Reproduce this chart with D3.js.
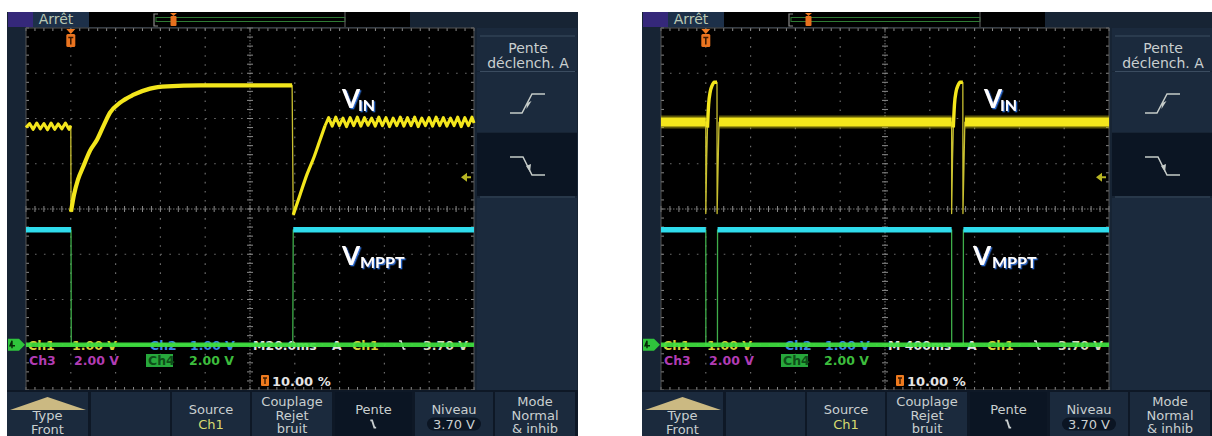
<!DOCTYPE html>
<html><head><meta charset="utf-8">
<script src="https://cdn.jsdelivr.net/npm/d3@7"></script>
<style>
html,body{margin:0;padding:0;background:#fff;}
svg{display:block;}
</style></head><body>
<svg id="chart" width="1212" height="436">
<defs>
<filter id="blueShadow" x="-20%" y="-20%" width="150%" height="150%">
  <feDropShadow dx="1.3" dy="1.3" stdDeviation="0.6" flood-color="#2e6fd6" flood-opacity="1"/>
</filter>
</defs>
</svg>
<script>
// ================= DATA =================
const divisionsX = 10, divisionsY = 8;
const voltDomain = [-1, 7];                 // 1.00 V/div, ground 3 div below centre
const triggerLevel = 3.70;                  // V
const triggerTime = 0;                      // ms
const leftTimeDomain  = [-20, 180];         // M20.0ms, trigger at 10 %
const rightTimeDomain = [-400, 3600];       // M 400ms, trigger at 10 %

// ---- left capture : Ch1 (V_IN) ----
const leftPreRippleT = [-20,-18.4,-16.8,-15.2,-13.6,-12,-10.4,-8.8,-7.2,-5.6,-4,-2.4,-0.8,0];
const leftPreRippleV = [4.80,4.89,4.76,4.90,4.77,4.89,4.75,4.90,4.76,4.88,4.77,4.90,4.76,4.84];
const leftChargeT = [0.1,1.4,3.2,5.5,8.6,11.7,14.8,17.5,22.0,27.8,35.4,43.0,57.7,80.0,98.8];
const leftChargeV = [2.94,3.31,3.65,3.93,4.29,4.53,4.86,5.13,5.35,5.52,5.66,5.71,5.73,5.73,5.73];
const leftRecoverT = [99.3,102.3,105.4,108.6,111.3,113.5];
const leftRecoverV = [2.87,3.31,3.76,4.15,4.53,4.84];
const leftPostRippleT = [113.5,115.1,116.7,118.3,119.9,121.5,123.1,124.7,126.3,127.9,129.5,131.1,132.7,134.3,135.9,137.5,139.1,140.7,142.3,143.9,145.5,147.1,148.7,150.3,151.9,153.5,155.1,156.7,158.3,159.9,161.5,163.1,164.7,166.3,167.9,169.5,171.1,172.7,174.3,175.9,177.5,179.1,180];
const leftPostRippleV = [4.84,5.02,4.83,5.03,4.84,5.01,4.82,5.02,4.84,5.03,4.83,5.02,4.85,5.01,4.83,5.03,4.84,5.02,4.82,5.01,4.84,5.03,4.83,5.02,4.84,5.03,4.82,5.01,4.84,5.02,4.83,5.03,4.84,5.02,4.83,5.01,4.84,5.03,4.82,5.02,4.84,5.03,4.90];
// ---- left capture : Ch2 (V_MPPT) ----
const leftCh2T = [-20,0.1,0.2,99.1,99.3,180];
const leftCh2V = [2.54,2.54,0,0,2.54,2.54];

// ---- right capture : Ch1 (V_IN) ----
const rightBand1T = [-400,0],      rightBand1V = [4.92,4.92];
const rightPulse1T = [0,2,8,15,25,40,55,75,100];
const rightPulse1V = [2.9,3.2,4.1,4.8,5.3,5.6,5.72,5.8,5.8];
const rightRecover1T = [101,118],  rightRecover1V = [2.9,4.92];
const rightBand2T = [118,2195],    rightBand2V = [4.92,4.92];
const rightPulse2T = [2195,2197,2203,2210,2220,2235,2250,2270,2295];
const rightPulse2V = [2.9,3.2,4.1,4.8,5.3,5.6,5.72,5.8,5.8];
const rightRecover2T = [2296,2313], rightRecover2V = [2.9,4.92];
const rightBand3T = [2313,3600],   rightBand3V = [4.92,4.92];
// ---- right capture : Ch2 (V_MPPT) ----
const rightCh2T = [-400,0,0.5,104,105,2195,2195.5,2299,2300,3600];
const rightCh2V = [2.54,2.54,0,0,2.54,2.54,0,0,2.54,2.54];

// ---- texts ----
const traceLabels = [{main:'V', sub:'IN'}, {main:'V', sub:'MPPT'}];
const statusText = 'Arrêt';
const panelTitle = ['Pente', 'déclench. A'];
const timebases = ['M20.0ms', 'M 400ms'];
const readoutRow1 = ['Ch1', '1.00 V', 'Ch2', '1.00 V', null, 'A', 'Ch1', null, '3.70 V'];
const readoutRow2 = ['Ch3', '2.00 V', 'Ch4', '2.00 V'];
const triggerPosText = '10.00 %';
const bottomButtons = [['Type','Front'], [], ['Source','Ch1'], ['Couplage','Rejet','bruit'], ['Pente','SLOPE'], ['Niveau','3.70 V'], ['Mode','Normal','& inhib']];

// ================= LAYOUT =================
const L = {plotL:26, plotR:474, plotT:28, plotB:390};
const C = {frame:'#172434', panel:'#1b2a3d', sel:'#0b1523', gap:'#0e1826',
  grid:'#6a6a6a', yellow:'#f3e61c', cyan:'#2fdcec', green:'#3fe03f', text:'#c9cfd0'};
const mono = 'DejaVu Sans';

const svg = d3.select('#chart');
const zip = (T,V) => T.map((t,i)=>[t,V[i]]);

function slopeIcon(g, cx, cy, s, color, w){
  g.append('path').attr('d',`M${cx-3*s},${cy-4*s} H${cx-1*s} L${cx+1.5*s},${cy+4*s} H${cx+3.5*s}`)
    .attr('fill','none').attr('stroke',color).attr('stroke-width',w);
}

function drawScope(cfg){
  const g = svg.append('g').attr('transform',`translate(${cfg.ox},0)`);
  const x = d3.scaleLinear().domain(cfg.time).range([L.plotL, L.plotR]);
  const y = d3.scaleLinear().domain(voltDomain).range([L.plotB, L.plotT]);

  // frame
  g.append('rect').attr('x',7).attr('y',12).attr('width',571).attr('height',424).attr('fill',C.frame);
  // top bar
  g.append('rect').attr('x',8).attr('y',12).attr('width',25).attr('height',15).attr('fill','#35287a');
  g.append('rect').attr('x',33).attr('y',12).attr('width',56).attr('height',15).attr('fill','#1d3049');
  g.append('text').attr('x',56).attr('y',24).attr('text-anchor','middle').attr('font-family',mono)
    .attr('font-size',14).attr('fill','#b9c8b4').text(statusText);
  g.append('rect').attr('x',89).attr('y',12).attr('width',321).attr('height',15).attr('fill','#000');
  g.append('path').attr('d','M158,14 H154 V26 H158').attr('fill','none').attr('stroke','#8a8a8a').attr('stroke-width',1.2);
  g.append('rect').attr('x',156).attr('y',17.5).attr('width',189).attr('height',4).attr('fill','none').attr('stroke','#2f7a34').attr('stroke-width',1);
  g.append('line').attr('x1',345).attr('x2',345).attr('y1',12).attr('y2',27).attr('stroke','#555').attr('stroke-width',1.2);
  g.append('path').attr('d','M170,13 H177 L173.5,16 Z').attr('fill','#f07a22');
  g.append('rect').attr('x',170.5).attr('y',16).attr('width',6).attr('height',10).attr('rx',1).attr('fill','#e8711e');

  // plot background
  g.append('rect').attr('x',L.plotL).attr('y',L.plotT).attr('width',L.plotR-L.plotL).attr('height',L.plotB-L.plotT).attr('fill','#000');

  // grid
  const stepT = (cfg.time[1]-cfg.time[0])/divisionsX;
  const stepV = (voltDomain[1]-voltDomain[0])/divisionsY;
  const majT = d3.range(divisionsX+1).map(i=>cfg.time[0]+i*stepT);
  const majV = d3.range(divisionsY+1).map(i=>voltDomain[0]+i*stepV);
  const minT = d3.range(divisionsX*5+1).map(i=>cfg.time[0]+i*stepT/5);
  const minV = d3.range(divisionsY*5+1).map(i=>voltDomain[0]+i*stepV/5);
  const minPxX = (L.plotR-L.plotL)/(divisionsX*5), minPxY = (L.plotB-L.plotT)/(divisionsY*5);
  const grid = g.append('g');
  majT.slice(1,-1).forEach((t,i)=>{ if(i+1===divisionsX/2) return;
    grid.append('line').attr('x1',x(t)).attr('x2',x(t)).attr('y1',L.plotT).attr('y2',L.plotB)
      .attr('stroke',C.grid).attr('stroke-width',1.2).attr('stroke-dasharray',`1.6,${minPxY-1.6}`);});
  majV.slice(1,-1).forEach((v,i)=>{ if(i+1===divisionsY/2) return;
    grid.append('line').attr('y1',y(v)).attr('y2',y(v)).attr('x1',L.plotL).attr('x2',L.plotR)
      .attr('stroke',C.grid).attr('stroke-width',1.2).attr('stroke-dasharray',`1.6,${minPxX-1.6}`);});
  const tc = majT[divisionsX/2], vc = majV[divisionsY/2];
  grid.append('line').attr('x1',x(tc)).attr('x2',x(tc)).attr('y1',L.plotT).attr('y2',L.plotB)
    .attr('stroke','#777').attr('stroke-width',1).attr('stroke-dasharray','1.5,1.5');
  grid.append('line').attr('y1',y(vc)).attr('y2',y(vc)).attr('x1',L.plotL).attr('x2',L.plotR)
    .attr('stroke','#777').attr('stroke-width',1).attr('stroke-dasharray','1.5,1.5');
  minT.forEach(t=>{
    grid.append('line').attr('x1',x(t)).attr('x2',x(t)).attr('y1',y(vc)-3).attr('y2',y(vc)+3).attr('stroke','#8a8a8a');
    grid.append('line').attr('x1',x(t)).attr('x2',x(t)).attr('y1',L.plotT).attr('y2',L.plotT+3).attr('stroke','#8a8a8a');
    grid.append('line').attr('x1',x(t)).attr('x2',x(t)).attr('y1',L.plotB-3).attr('y2',L.plotB).attr('stroke','#8a8a8a');
  });
  minV.forEach(v=>{
    grid.append('line').attr('y1',y(v)).attr('y2',y(v)).attr('x1',x(tc)-3).attr('x2',x(tc)+3).attr('stroke','#8a8a8a');
    grid.append('line').attr('y1',y(v)).attr('y2',y(v)).attr('x1',L.plotL).attr('x2',L.plotL+3).attr('stroke','#8a8a8a');
    grid.append('line').attr('y1',y(v)).attr('y2',y(v)).attr('x1',L.plotR-3).attr('x2',L.plotR).attr('stroke','#8a8a8a');
  });
  grid.append('rect').attr('x',L.plotL).attr('y',L.plotT).attr('width',L.plotR-L.plotL).attr('height',L.plotB-L.plotT)
    .attr('fill','none').attr('stroke','#555').attr('stroke-width',1);

  // readouts under traces
  const rd = g.append('g').attr('font-family',mono).attr('font-weight','bold').attr('font-size',12.5);
  const row1X = [28,72,150,190,253,332,352,398,423];
  const row1C = ['#d8d03a','#d8d03a','#3d86e6','#3d86e6','#e4e4e4','#e4e4e4','#d8d03a','#e4e4e4','#d8d8c0'];
  readoutRow1.forEach((s,i)=>{
    if(i===4) s = cfg.timebase;
    if(s===null){ slopeIcon(rd, row1X[i]+4, 345, 1, row1C[i], 1.6); return; }
    rd.append('text').attr('x',row1X[i]).attr('y',350).attr('fill',row1C[i]).text(s);
  });
  rd.append('rect').attr('x',146).attr('y',354).attr('width',27).attr('height',13).attr('fill','#27a83c');
  const row2X = [29,74,148,189], row2C = ['#b23cb4','#b23cb4','#0d4d18','#3dbd3d'];
  readoutRow2.forEach((s,i)=> rd.append('text').attr('x',row2X[i]).attr('y',365).attr('fill',row2C[i]).text(s));
  rd.append('rect').attr('x',261).attr('y',375).attr('width',8).attr('height',11).attr('rx',1).attr('fill','#ee7a1e');
  rd.append('path').attr('d','M263,378 H267 M265,378 V384').attr('stroke','#3a1a00').attr('stroke-width',1.4);
  rd.append('text').attr('x',272).attr('y',386).attr('font-size',13).attr('fill','#e4e4e4').text(triggerPosText);

  // traces
  const line = d3.line().x(d=>x(d[0])).y(d=>y(d[1]));
  const smooth = d3.line().curve(d3.curveMonotoneX).x(d=>x(d[0])).y(d=>y(d[1]));
  const tr = g.append('g').attr('fill','none').attr('stroke-linejoin','round');
  const ch2 = zip(cfg.ch2T, cfg.ch2V);
  tr.append('path').attr('d',line(ch2)).attr('stroke','#3fae4a').attr('stroke-width',1.3);
  tr.append('path').attr('d',d3.line().defined(d=>d[1]>1).x(d=>x(d[0])).y(d=>y(d[1]))(ch2))
    .attr('stroke',C.cyan).attr('stroke-width',5.5);
  const all = cfg.ch1.flatMap(s=>zip(s.T,s.V));
  tr.append('path').attr('d',line(all)).attr('stroke','#c9c030').attr('stroke-width',1.3);
  cfg.ch1.forEach(s=>{
    const pts = zip(s.T,s.V);
    if(s.band){
      tr.append('path').attr('d',line(pts)).attr('stroke','#b8ad10').attr('stroke-width',13).attr('opacity',0.5);
      tr.append('path').attr('d',line(pts)).attr('stroke',C.yellow).attr('stroke-width',9);
    } else if(s.pulse){
      tr.append('path').attr('d',d3.line().defined(d=>d[1]>4.6).curve(d3.curveMonotoneX).x(d=>x(d[0])).y(d=>y(d[1]))(pts))
        .attr('stroke',C.yellow).attr('stroke-width',3.4);
    } else if(s.w){
      tr.append('path').attr('d',(s.smooth?smooth:line)(pts)).attr('stroke',C.yellow).attr('stroke-width',s.w);
    }
  });
  tr.append('path').attr('d',line(zip(cfg.time,[0,0]))).attr('stroke',C.green).attr('stroke-width',4.5).attr('opacity',0.92);

  // channel 4 marker
  g.append('path').attr('d',`M8,${y(0)-6} H19 L25,${y(0)} L19,${y(0)+6} H8 Z`).attr('fill','#2fc43c');
  g.append('path').attr('d',`M12,${y(0)+3.5} L12,${y(0)-4} L10,${y(0)+1} H15`).attr('fill','none').attr('stroke','#062a08').attr('stroke-width',1.4);

  // trigger position marker
  const tx = x(triggerTime);
  g.append('path').attr('d',`M${tx-4.5},${L.plotT+1} H${tx+4.5} L${tx},${L.plotT+6} Z`).attr('fill','#f07a22');
  g.append('rect').attr('x',tx-4.5).attr('y',L.plotT+6).attr('width',9).attr('height',13).attr('rx',1.5).attr('fill','#ea7420');
  g.append('path').attr('d',`M${tx-2.5},${L.plotT+9.5} H${tx+2.5} M${tx},${L.plotT+9.5} V${L.plotT+16.5}`).attr('stroke','#3a1800').attr('stroke-width',1.5);
  const ty = y(triggerLevel);
  g.append('path').attr('d',`M${L.plotR-13},${ty} L${L.plotR-7},${ty-4.5} L${L.plotR-7},${ty+4.5} Z M${L.plotR-7},${ty-1} H${L.plotR-3} V${ty+1} H${L.plotR-7} Z`).attr('fill','#b8b624');

  // trace labels
  const lab = g.append('g').attr('font-family','Lato').attr('font-weight','bold').attr('filter','url(#blueShadow)');
  cfg.labels.forEach((p,i)=>{
    const d = traceLabels[i];
    const t = lab.append('text').attr('fill','#ffffff');
    t.append('tspan').attr('x',p[0]).attr('y',p[1]).attr('font-size',26).text(d.main);
    t.append('tspan').attr('x',p[2]).attr('y',p[1]+3).attr('font-size',16).text(d.sub);
  });

  // right side panel
  const P = g.append('g');
  P.append('rect').attr('x',477).attr('y',28).attr('width',100).attr('height',43).attr('fill',C.panel);
  P.append('rect').attr('x',477).attr('y',72).attr('width',100).attr('height',60).attr('fill',C.panel);
  P.append('rect').attr('x',477).attr('y',133).attr('width',100).attr('height',63).attr('fill',C.sel);
  P.append('rect').attr('x',477).attr('y',198).attr('width',100).attr('height',192).attr('fill',C.panel);
  [36,71.5,197].forEach(yy=>P.append('line').attr('x1',480).attr('x2',575).attr('y1',yy).attr('y2',yy).attr('stroke','#3b4c60'));
  panelTitle.forEach((s,i)=>P.append('text').attr('x',528).attr('y',53+i*15).attr('text-anchor','middle')
    .attr('font-family',mono).attr('font-size',14).attr('fill',C.text).text(s));
  P.append('path').attr('d','M510,113 H522 L532,94 H545').attr('fill','none').attr('stroke','#c5cbc8').attr('stroke-width',1.5);
  P.append('path').attr('d','M527,103 L531.5,101 L526.5,109 Z').attr('fill','#c5cbc8');
  P.append('path').attr('d','M510,157 H523 L532,175 H545').attr('fill','none').attr('stroke','#c5cbc8').attr('stroke-width',1.5);
  P.append('path').attr('d','M526,166 L531,164 L530,172 Z').attr('fill','#c5cbc8');

  // bottom buttons
  const B = g.append('g').attr('font-family',mono).attr('font-size',13).attr('text-anchor','middle');
  B.append('rect').attr('x',7).attr('y',390).attr('width',571).attr('height',46).attr('fill',C.gap);
  const bx = [[7,88],[91,170],[172,250],[252,332],[335,412],[415,493],[495,575]];
  bottomButtons.forEach((lines,i)=>{
    const [a,b] = bx[i], cx=(a+b)/2;
    B.append('rect').attr('x',a).attr('y',392).attr('width',b-a).attr('height',44).attr('fill', i===4?C.sel:C.panel);
    if(i===0){
      B.append('path').attr('d',`M10,410 L${cx},397 L86,410 Z`).attr('fill','#cbb982');
      B.append('text').attr('x',cx).attr('y',420).attr('fill',C.text).text(lines[0]);
      B.append('text').attr('x',cx).attr('y',433.5).attr('fill',C.text).text(lines[1]);
    } else if(lines.length===3){
      lines.forEach((s,k)=>B.append('text').attr('x',cx).attr('y',406+k*13.5).attr('fill',C.text).text(s));
    } else if(lines.length===2){
      B.append('text').attr('x',cx).attr('y',414).attr('fill',C.text).text(lines[0]);
      if(lines[1]==='SLOPE'){ slopeIcon(B, cx-0.5, 424, 0.9, C.text, 1.8); }
      else {
        if(i===5) B.append('rect').attr('x',cx-27).attr('y',417.5).attr('width',54).attr('height',13).attr('rx',6.5).attr('fill',C.sel);
        B.append('text').attr('x',cx).attr('y',429).attr('fill', i===2?'#d8dc70':C.text).text(lines[1]);
      }
    }
  });
}

const scopes = [
  {ox:0, time:leftTimeDomain, timebase:timebases[0],
   ch1:[{T:leftPreRippleT,V:leftPreRippleV,w:3},{T:leftChargeT,V:leftChargeV,w:4.2,smooth:true},
        {T:leftRecoverT,V:leftRecoverV,w:3.2,smooth:true},{T:leftPostRippleT,V:leftPostRippleV,w:3}],
   ch2T:leftCh2T, ch2V:leftCh2V,
   labels:[[342,108,358],[342,265,360]]},
  {ox:635, time:rightTimeDomain, timebase:timebases[1],
   ch1:[{T:rightBand1T,V:rightBand1V,band:true},{T:rightPulse1T,V:rightPulse1V,pulse:true},
        {T:rightRecover1T,V:rightRecover1V},{T:rightBand2T,V:rightBand2V,band:true},
        {T:rightPulse2T,V:rightPulse2V,pulse:true},{T:rightRecover2T,V:rightRecover2V},
        {T:rightBand3T,V:rightBand3V,band:true}],
   ch2T:rightCh2T, ch2V:rightCh2V,
   labels:[[349,108,365],[338,265,357]]}
];
scopes.forEach(drawScope);
</script>
</body></html>
